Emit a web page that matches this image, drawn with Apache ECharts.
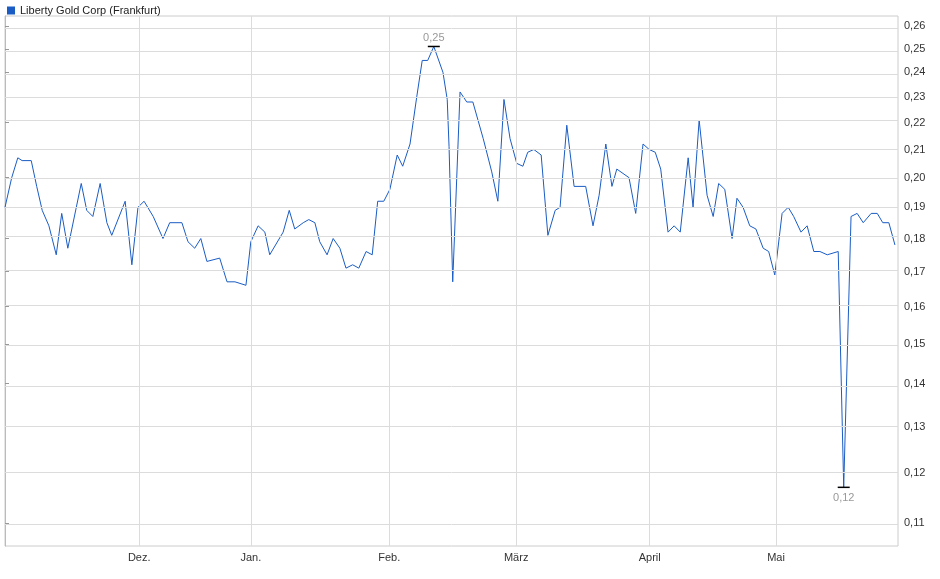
<!DOCTYPE html>
<html>
<head>
<meta charset="utf-8">
<script src="https://cdn.jsdelivr.net/npm/echarts@6/dist/echarts.min.js"></script>
<style>html,body{margin:0;padding:0;background:#fff}#chart{width:940px;height:579px}</style>
</head>
<body>
<div id="chart"></div>
<script>
// trading day index (from start of series) and closing price
var days = [0,1.1,2.1,2.8,4.3,5.2,6.1,7.2,8.4,9.3,10.3,12.5,13.4,14.4,15.6,16.7,17.5,19.7,20.8,21.8,22.8,24.3,25.9,27,29,30,31.1,32.1,33.1,35.2,36.4,37.7,39.5,40.3,41.5,42.6,43.4,45.6,46.6,47.5,48.9,49.8,50.8,51.6,52.8,53.8,54.9,55.9,57,58,59.2,60.2,61.1,62.1,63.1,64.3,65.2,66.4,67.5,68.4,69.3,70.3,71.8,72.5,72.8,73.4,74.6,75.7,76.7,78.4,79.8,80.8,81.8,82.8,83.9,84.9,85.7,86.7,87.9,89,90.2,91,92.1,93.3,95.2,96.4,97.4,98.5,99.5,100.3,102.3,103.4,104.6,105.6,106.6,107.5,108.7,109.7,110.7,112,112.8,113.8,115.1,116.1,117,118,119.2,120,121,122.1,123.1,124.3,125.2,126.2,127.4,128.4,129.3,130.5,131.5,132.6,133.6,134.8,136.6,137.5,138.7,139.7,140.7,142,143,143.9,144.9,145.9];
var prices = [0.19,0.20,0.207,0.206,0.206,0.197,0.189,0.184,0.175,0.188,0.177,0.198,0.189,0.187,0.198,0.185,0.181,0.192,0.172,0.19,0.192,0.187,0.180,0.185,0.185,0.179,0.177,0.18,0.173,0.174,0.167,0.167,0.166,0.179,0.184,0.182,0.175,0.182,0.189,0.183,0.185,0.186,0.185,0.179,0.175,0.18,0.177,0.171,0.172,0.171,0.176,0.175,0.192,0.192,0.196,0.208,0.204,0.212,0.23,0.245,0.245,0.251,0.24,0.229,0.211,0.167,0.232,0.228,0.228,0.214,0.202,0.192,0.229,0.214,0.205,0.204,0.209,0.21,0.208,0.181,0.189,0.19,0.219,0.197,0.197,0.184,0.194,0.212,0.197,0.203,0.20,0.188,0.212,0.21,0.209,0.203,0.182,0.184,0.182,0.207,0.19,0.221,0.194,0.187,0.198,0.196,0.18,0.193,0.19,0.184,0.183,0.177,0.176,0.169,0.188,0.19,0.187,0.182,0.184,0.176,0.176,0.175,0.176,0.117,0.187,0.188,0.185,0.188,0.188,0.185,0.185,0.178];
var monthLabels = ['Dez.','Jan.','Feb.','März','April','Mai'];
var monthDays = [22,40.3,63,83.8,105.7,126.4];
var priceTicks = [0.11,0.12,0.13,0.14,0.15,0.16,0.17,0.18,0.19,0.20,0.21,0.22,0.23,0.24,0.25,0.26];

function fmt(v){ return v.toFixed(2).replace('.', ','); }

var lineData = days.map(function(d,i){ return [d, Math.log(prices[i])]; });
var logTicks = priceTicks.map(function(v){ return Math.log(v); });

var grid = [];
logTicks.forEach(function(t){ grid.push({yAxis:t}); });
monthDays.forEach(function(d){ grid.push({xAxis:d}); });

var myChart = echarts.init(document.getElementById('chart'));
var option = {
    animation: false,
    legend: {
        left: 2, top: 0, itemWidth: 8, itemHeight: 8, itemGap: 4,
        icon: 'rect',
        textStyle: { fontSize: 11, color: '#222', fontFamily: 'Liberation Sans' },
        data: ['Liberty Gold Corp (Frankfurt)']
    },
    grid: { left: 5, right: 42, top: 16, bottom: 33, show: true, borderColor: '#ccc', borderWidth: 1 },
    xAxis: {
        type: 'value', min: 0, max: 146.4,
        axisLine: { show: false },
        splitLine: { show: false },
        axisTick: { show: false },
        axisLabel: {
            customValues: monthDays,
            formatter: function(v){ var i = monthDays.indexOf(v); return i >= 0 ? monthLabels[i] : ''; },
            fontSize: 11, color: '#333', fontFamily: 'Liberation Sans', margin: 6
        }
    },
    yAxis: {
        type: 'value', position: 'right',
        min: Math.log(0.1057), max: Math.log(0.2646),
        axisLine: { show: true, lineStyle: { color: '#bbb' } },
        splitLine: { show: false },
        axisTick: { show: true, customValues: logTicks, length: 4, lineStyle: { color: '#999' } },
        axisLabel: {
            customValues: logTicks,
            formatter: function(v){ return fmt(Math.exp(v)); },
            fontSize: 11, color: '#333', fontFamily: 'Liberation Sans', margin: 6
        }
    },
    series: [{
        name: 'Liberty Gold Corp (Frankfurt)',
        type: 'line',
        data: lineData,
        symbol: 'none',
        color: '#1a5cc4',
        lineStyle: { width: 1, color: '#1a5cc4' },
        markLine: {
            silent: true, symbol: 'none', animation: false,
            label: { show: false },
            lineStyle: { color: '#dcdcdc', width: 1, type: 'solid' },
            data: grid
        },
        markPoint: {
            silent: true,
            symbol: 'rect', symbolSize: [12, 1.5],
            itemStyle: { color: '#000' },
            data: [
                { type: 'max', label: { position: 'top', distance: 2 } },
                { type: 'min', label: { position: 'bottom', distance: 4 } }
            ],
            label: {
                show: true, color: '#999', fontSize: 11, fontFamily: 'Liberation Sans',
                formatter: function(p){ return fmt(Math.exp(p.value)); }
            }
        }
    }]
};
myChart.setOption(option);
</script>
</body>
</html>
